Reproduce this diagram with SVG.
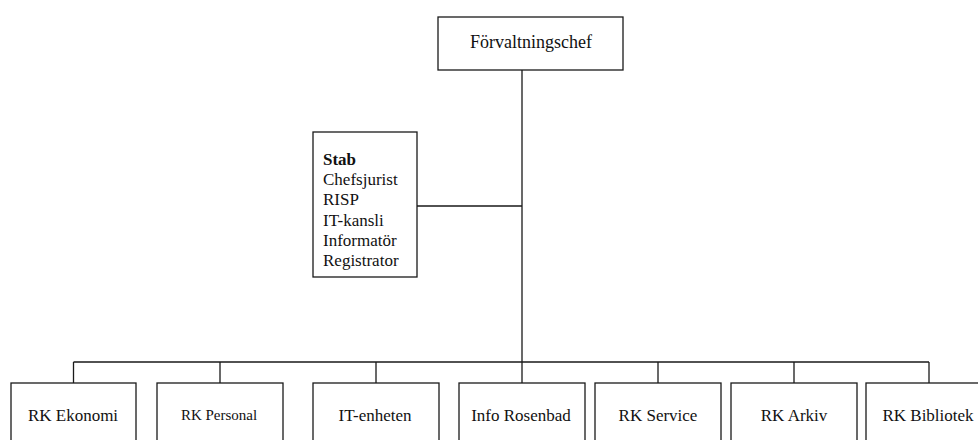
<svg xmlns="http://www.w3.org/2000/svg" width="978" height="440" viewBox="0 0 978 440">
<style>
.box{fill:#fff;stroke:#1a1a1a;stroke-width:1.3}
.ln{fill:none;stroke:#1a1a1a;stroke-width:1.3}
text{font-family:"Liberation Serif","Times New Roman",serif;font-size:17px;fill:#111}
.c{text-anchor:middle}
</style>
<rect width="978" height="440" fill="#fff"/>
<g id="connectors">
<path class="ln" d="M522 70V362M417 206H522M73.5 362H929M73.5 362V383M220 362V383M376 362V383M522 362V383M658 362V383M794 362V383M929 362V383"/>
</g>
<g id="forvaltningschef"><rect class="box" x="438" y="17" width="185" height="53"/><text class="c" x="531" y="48" style="font-size:18px">Förvaltningschef</text></g>
<g id="stab"><rect class="box" x="313" y="132" width="104" height="145"/>
<text x="323" y="165" font-weight="bold">Stab</text>
<text x="323" y="185">Chefsjurist</text>
<text x="323" y="205">RISP</text>
<text x="323" y="225.5">IT-kansli</text>
<text x="323" y="246">Informatör</text>
<text x="323" y="266">Registrator</text></g>
<g id="ekonomi"><rect class="box" x="11" y="383" width="125" height="80"/><text class="c" x="73" y="421">RK Ekonomi</text></g>
<g id="personal"><rect class="box" x="157" y="383" width="126" height="80"/><text class="c" x="219" y="420" style="font-size:15px">RK Personal</text></g>
<g id="it-enheten"><rect class="box" x="313" y="383" width="126" height="80"/><text class="c" x="375" y="421">IT-enheten</text></g>
<g id="info-rosenbad"><rect class="box" x="459" y="383" width="126" height="80"/><text class="c" x="521" y="421">Info Rosenbad</text></g>
<g id="service"><rect class="box" x="595" y="383" width="126" height="80"/><text class="c" x="658" y="421">RK Service</text></g>
<g id="arkiv"><rect class="box" x="731" y="383" width="126" height="80"/><text class="c" x="794" y="421">RK Arkiv</text></g>
<g id="bibliotek"><rect class="box" x="866" y="383" width="126" height="80"/><text class="c" x="928" y="421">RK Bibliotek</text></g>
</svg>
